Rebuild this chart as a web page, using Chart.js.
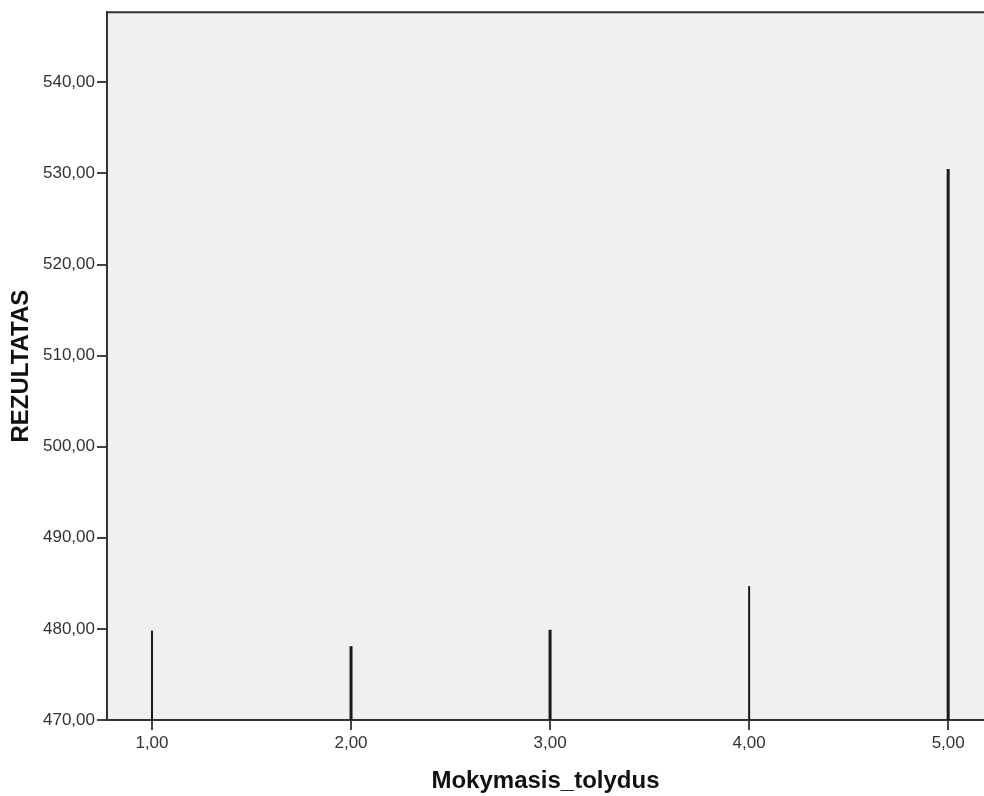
<!DOCTYPE html>
<html>
<head>
<meta charset="utf-8">
<script src="https://cdn.jsdelivr.net/npm/chart.js@4/dist/chart.umd.min.js"></script>
<style>
  html, body { margin: 0; padding: 0; background: #fff; }
  #wrap { width: 984px; height: 796px; }
</style>
</head>
<body>
<div id="wrap"><canvas id="chart"></canvas></div>
<script>
// --- dati ---
const categories = [1, 2, 3, 4, 5];
const values = [479.8, 478.1, 479.9, 484.7, 530.5];
const lineWidths = [2, 3, 3, 2, 3];
const yTicks = [470, 480, 490, 500, 510, 520, 530, 540];
const xTicks = [1, 2, 3, 4, 5];
const baseValue = 470;

const fmt = v => Number(v).toFixed(2).replace('.', ',');

// sfondo area grafico + bordo superiore
const plotFrame = {
    id: 'plotFrame',
    beforeDraw(chart) {
        const { ctx, chartArea: a } = chart;
        ctx.save();
        ctx.fillStyle = '#f0f0f0';
        ctx.fillRect(a.left, a.top, a.right - a.left, a.bottom - a.top);
        ctx.strokeStyle = '#333';
        ctx.lineWidth = 2;
        ctx.beginPath();
        ctx.moveTo(a.left - 1, a.top);
        ctx.lineTo(a.right, a.top);
        ctx.stroke();
        ctx.restore();
    }
};

// una linea verticale per ogni categoria, dalla base al valore
const datasets = categories.map((c, i) => ({
    data: [{ x: c, y: baseValue }, { x: c, y: values[i] }],
    borderColor: '#1a1a1a',
    borderWidth: lineWidths[i],
    pointRadius: 0,
    borderCapStyle: 'butt',
    clip: false
}));

new Chart(document.getElementById('chart'), {
    type: 'line',
    data: { datasets },
    plugins: [plotFrame],
    options: {
        responsive: true,
        maintainAspectRatio: false,
        animation: false,
        layout: { padding: { top: 11, right: 0, left: 0, bottom: 0 } },
        plugins: { legend: { display: false }, tooltip: { enabled: false } },
        scales: {
            x: {
                type: 'linear',
                min: 0.774,
                max: 5.18,
                afterBuildTicks: axis => { axis.ticks = xTicks.map(v => ({ value: v })); },
                afterFit: axis => { axis.height = 76; },
                border: { display: true, color: '#333', width: 2 },
                grid: { drawOnChartArea: false, drawTicks: true, tickLength: 10, color: '#444', lineWidth: 2 },
                ticks: {
                    color: '#333',
                    padding: 3,
                    maxRotation: 0,
                    font: { family: 'Liberation Sans', size: 17 },
                    callback: v => fmt(v)
                },
                title: {
                    display: true,
                    text: 'Mokymasis_tolydus',
                    color: '#111',
                    padding: { top: 0, bottom: 0 },
                    font: { family: 'Liberation Sans', size: 24, weight: 'bold', lineHeight: 1.2 }
                }
            },
            y: {
                min: 470,
                max: 547.7,
                afterBuildTicks: axis => { axis.ticks = yTicks.map(v => ({ value: v })); },
                afterFit: axis => { axis.width = 107; },
                border: { display: true, color: '#333', width: 2 },
                grid: { drawOnChartArea: false, drawTicks: true, tickLength: 10, color: '#444', lineWidth: 2 },
                ticks: {
                    color: '#333',
                    padding: 2,
                    font: { family: 'Liberation Sans', size: 17 },
                    callback: v => fmt(v)
                },
                title: {
                    display: true,
                    text: 'REZULTATAS',
                    color: '#111',
                    padding: { top: 7, bottom: 0 },
                    font: { family: 'Liberation Sans', size: 24, weight: 'bold', lineHeight: 1.2 }
                }
            }
        }
    }
});
</script>
</body>
</html>
